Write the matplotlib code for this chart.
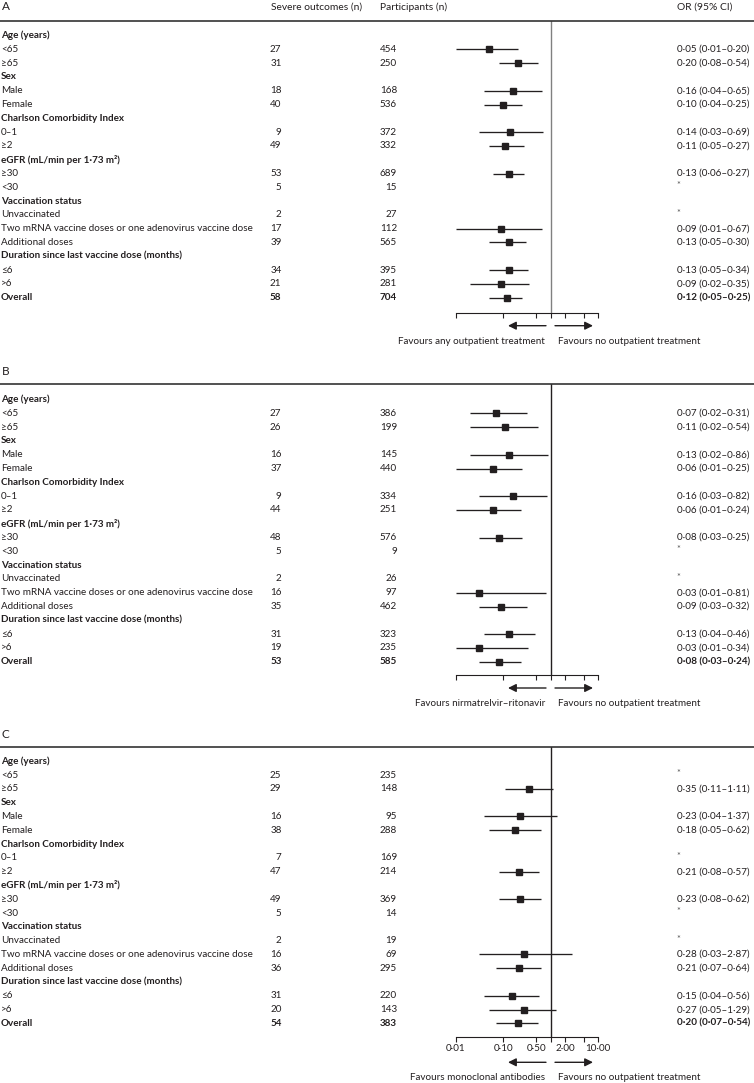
import matplotlib
matplotlib.use("Agg")
import matplotlib.pyplot as plt
from matplotlib.transforms import blended_transform_factory
import numpy as np

plt.rcParams['font.family'] = ['Lato', 'DejaVu Sans']

# ---------------- data ----------------
row_labels = ["Age (years)", "<65", "≥65", "Sex", "Male", "Female",
              "Charlson Comorbidity Index", "0–1", "≥2",
              "eGFR (mL/min per 1·73 m²)", "≥30", "<30",
              "Vaccination status", "Unvaccinated",
              "Two mRNA vaccine doses or one adenovirus vaccine dose",
              "Additional doses", "Duration since last vaccine dose (months)",
              "≤6", ">6", "Overall"]
header_rows = [0, 3, 6, 9, 12, 16]
overall_row = 19
N = np.nan

severe_A = [None, 27, 31, None, 18, 40, None, 9, 49, None, 53, 5, None, 2, 17, 39, None, 34, 21, 58]
part_A   = [None, 454, 250, None, 168, 536, None, 372, 332, None, 689, 15, None, 27, 112, 565, None, 395, 281, 704]
or_A     = [N, 0.05, 0.20, N, 0.16, 0.10, N, 0.14, 0.11, N, 0.13, N, N, N, 0.09, 0.13, N, 0.13, 0.09, 0.12]
lo_A     = [N, 0.01, 0.08, N, 0.04, 0.04, N, 0.03, 0.05, N, 0.06, N, N, N, 0.01, 0.05, N, 0.05, 0.02, 0.05]
hi_A     = [N, 0.20, 0.54, N, 0.65, 0.25, N, 0.69, 0.27, N, 0.27, N, N, N, 0.67, 0.30, N, 0.34, 0.35, 0.25]

severe_B = [None, 27, 26, None, 16, 37, None, 9, 44, None, 48, 5, None, 2, 16, 35, None, 31, 19, 53]
part_B   = [None, 386, 199, None, 145, 440, None, 334, 251, None, 576, 9, None, 26, 97, 462, None, 323, 235, 585]
or_B     = [N, 0.07, 0.11, N, 0.13, 0.06, N, 0.16, 0.06, N, 0.08, N, N, N, 0.03, 0.09, N, 0.13, 0.03, 0.08]
lo_B     = [N, 0.02, 0.02, N, 0.02, 0.01, N, 0.03, 0.01, N, 0.03, N, N, N, 0.01, 0.03, N, 0.04, 0.01, 0.03]
hi_B     = [N, 0.31, 0.54, N, 0.86, 0.25, N, 0.82, 0.24, N, 0.25, N, N, N, 0.81, 0.32, N, 0.46, 0.34, 0.24]

severe_C = [None, 25, 29, None, 16, 38, None, 7, 47, None, 49, 5, None, 2, 16, 36, None, 31, 20, 54]
part_C   = [None, 235, 148, None, 95, 288, None, 169, 214, None, 369, 14, None, 19, 69, 295, None, 220, 143, 383]
or_C     = [N, N, 0.35, N, 0.23, 0.18, N, N, 0.21, N, 0.23, N, N, N, 0.28, 0.21, N, 0.15, 0.27, 0.20]
lo_C     = [N, N, 0.11, N, 0.04, 0.05, N, N, 0.08, N, 0.08, N, N, N, 0.03, 0.07, N, 0.04, 0.05, 0.07]
hi_C     = [N, N, 1.11, N, 1.37, 0.62, N, N, 0.57, N, 0.62, N, N, N, 2.87, 0.64, N, 0.56, 1.29, 0.54]

panel_letters = ["A", "B", "C"]
favour_left = ["Favours any outpatient treatment", "Favours nirmatrelvir–ritonavir",
               "Favours monoclonal antibodies"]
favour_right = "Favours no outpatient treatment"
col_headers = ["Severe outcomes (n)", "Participants (n)", "OR (95% CI)"]
tick_values = [0.01, 0.1, 0.5, 1, 2, 5, 10]
tick_labels = ["0·01", "0·10", "0·50", "", "2·00", "", "10·00"]

panels = [
    (severe_A, part_A, or_A, lo_A, hi_A),
    (severe_B, part_B, or_B, lo_B, hi_B),
    (severe_C, part_C, or_C, lo_C, hi_C),
]

# ---------------- layout (pixels) ----------------
W, H = 754, 1083
DPI = 100
fig = plt.figure(figsize=(W / DPI, H / DPI), dpi=DPI)
fig.patch.set_facecolor("white")

TXT = "#231f20"
FS = 7.1
sp = 13.8
letter_y = [7, 371, 735]
rule_y = [20.5, 384, 746.7]
first_y = [35.5, 399.5, 761.2]
axis_y = [312.7, 675, 1037.3]
x_lo_px, x_hi_px = 456, 598
x_label = 1
x_sev = 281.5
x_part = 397
x_or = 676.7
x_fav_l = 545
x_fav_r = 557.7


def fx(px):
    return px / W


def fy(py):
    return 1 - py / H


def fmt(v):
    return f"{v:.2f}".replace(".", "·")


for p, (sev, part, orv, lo, hi) in enumerate(panels):
    ax = fig.add_axes([fx(x_lo_px), fy(axis_y[p]), fx(x_hi_px) - fx(x_lo_px),
                       (axis_y[p] - rule_y[p]) / H])
    ax.set_xscale("log")
    ax.set_xlim(0.01, 10)
    ax.set_ylim((axis_y[p] - first_y[p]) / sp, (rule_y[p] - first_y[p]) / sp)
    ax.patch.set_alpha(0)
    for s in ["top", "left", "right"]:
        ax.spines[s].set_visible(False)
    ax.spines["bottom"].set_linewidth(0.8)
    ax.spines["bottom"].set_color(TXT)
    ax.set_yticks([])
    ax.set_xticks(tick_values)
    ax.xaxis.set_minor_locator(matplotlib.ticker.NullLocator())
    ax.tick_params(axis="x", length=3.5, width=0.8, color=TXT, pad=1.5,
                   labelsize=FS, labelcolor=TXT)
    if p == 2:
        ax.set_xticklabels(tick_labels)
    else:
        ax.set_xticklabels([""] * len(tick_values))

    ax.axvline(1, color="#808080" if p == 0 else TXT, lw=1.0, zorder=1)

    rows = np.arange(len(row_labels))
    orv_a = np.array(orv, dtype=float)
    lo_a = np.array(lo, dtype=float)
    hi_a = np.array(hi, dtype=float)
    ok = ~np.isnan(orv_a)
    ax.hlines(rows[ok], lo_a[ok], hi_a[ok], color=TXT, lw=0.95, zorder=2)
    ax.plot(orv_a[ok], rows[ok], ls="none", marker="s", ms=4.8, color=TXT,
            mec=TXT, zorder=3)

    tr = blended_transform_factory(fig.transFigure, ax.transData)
    for i, lab in enumerate(row_labels):
        bold = (i in header_rows) or (i == overall_row)
        w = "bold" if bold else "normal"
        ax.text(fx(x_label), i, lab, transform=tr, ha="left", va="center",
                fontsize=FS, color=TXT, fontweight=w, clip_on=False)
        if sev[i] is not None:
            wn = "bold" if i == overall_row else "normal"
            ax.text(fx(x_sev), i, str(sev[i]), transform=tr, ha="right",
                    va="center", fontsize=FS, color=TXT, fontweight=wn, clip_on=False)
            ax.text(fx(x_part), i, str(part[i]), transform=tr, ha="right",
                    va="center", fontsize=FS, color=TXT, fontweight=wn, clip_on=False)
            if np.isnan(orv_a[i]):
                ax.text(fx(x_or), i - 0.1, "*", transform=tr, ha="left",
                        va="center", fontsize=FS - 0.5, color="#555555", clip_on=False)
            else:
                s = f"{fmt(orv_a[i])} ({fmt(lo_a[i])}–{fmt(hi_a[i])})"
                ax.text(fx(x_or), i, s, transform=tr, ha="left", va="center",
                        fontsize=FS, color=TXT, fontweight=wn, clip_on=False)

    # panel letter, header rule, column headers
    fig.text(fx(2), fy(letter_y[p]), panel_letters[p], ha="left", va="center",
             fontsize=8.5, color=TXT)
    fig.add_artist(plt.Line2D([0, 1], [fy(rule_y[p]), fy(rule_y[p])],
                              transform=fig.transFigure, color="#333333", lw=1.2))
    if p == 0:
        fig.text(fx(270.7), fy(letter_y[p]), col_headers[0], ha="left",
                 va="center", fontsize=FS + 0.3, color=TXT)
        fig.text(fx(380), fy(letter_y[p]), col_headers[1], ha="left",
                 va="center", fontsize=FS + 0.3, color=TXT)
        fig.text(fx(x_or), fy(letter_y[p]), col_headers[2], ha="left",
                 va="center", fontsize=FS + 0.3, color=TXT)

    # arrows & favour labels
    extra = 12 if p == 2 else 0
    arr_y = axis_y[p] + 13 + extra
    lab_y = axis_y[p] + 28.5 + extra
    atr = blended_transform_factory(ax.transAxes, fig.transFigure)

    def axf(px):
        return (px - x_lo_px) / (x_hi_px - x_lo_px)

    ax.annotate("", xy=(axf(508), fy(arr_y)), xytext=(axf(546), fy(arr_y)),
                xycoords=atr, textcoords=atr,
                arrowprops=dict(arrowstyle="-|>", color=TXT, lw=1.0,
                                mutation_scale=12, shrinkA=0, shrinkB=0))
    ax.annotate("", xy=(axf(593), fy(arr_y)), xytext=(axf(555), fy(arr_y)),
                xycoords=atr, textcoords=atr,
                arrowprops=dict(arrowstyle="-|>", color=TXT, lw=1.0,
                                mutation_scale=12, shrinkA=0, shrinkB=0))
    fig.text(fx(x_fav_l), fy(lab_y), favour_left[p], ha="right", va="center",
             fontsize=FS, color=TXT)
    fig.text(fx(x_fav_r), fy(lab_y), favour_right, ha="left", va="center",
             fontsize=FS, color=TXT)

fig.savefig("out.png", dpi=DPI, facecolor="white")
